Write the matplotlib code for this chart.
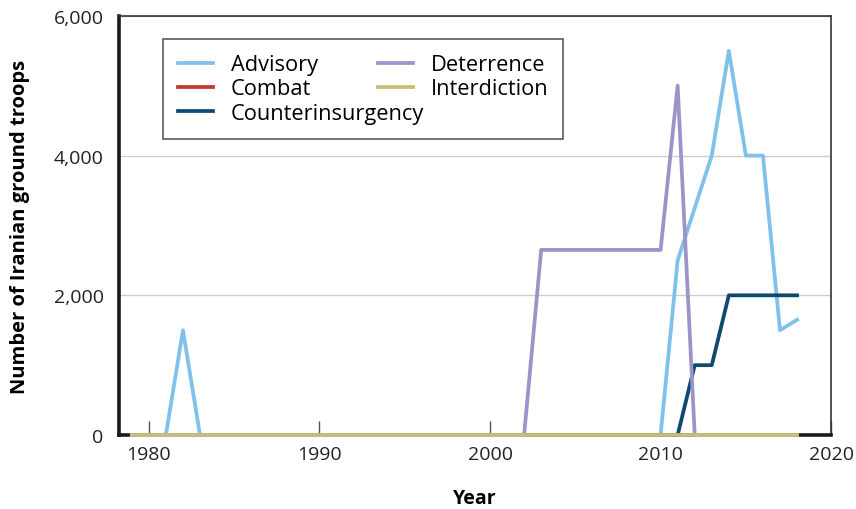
import numpy as np
import matplotlib.pyplot as plt

plt.rcParams['font.family'] = ['Open Sans', 'DejaVu Sans']

years = list(range(1979, 2019))

# troop counts by year, 1979-2018
advisory = [0, 0, 0, 1500, 0] + [0] * 27 + [2500, 3250, 4000, 5500, 4000, 4000, 1500, 1650]
combat = [0] * 40
counterinsurgency = [0] * 33 + [1000, 1000, 2000, 2000, 2000, 2000, 2000]
deterrence = [0] * 24 + [2650] * 8 + [5000, 0] + [0] * 6
interdiction = [0] * 40

series = [
    ('Advisory', advisory, '#7fc1ea'),
    ('Combat', combat, '#c0392b'),
    ('Counterinsurgency', counterinsurgency, '#0d4a6d'),
    ('Deterrence', deterrence, '#9c94c8'),
    ('Interdiction', interdiction, '#c9bd7a'),
]

fig = plt.figure(figsize=(8.56, 5.1), dpi=100)
ax = fig.add_axes([0.139, 0.145, 0.832, 0.822])

for name, vals, col in series:
    ax.plot(years, vals, color=col, lw=2.7, label=name, clip_on=False, zorder=5)

ax.set_xlim(1978.25, 2020)
ax.set_ylim(0, 6000)
ax.set_xticks([1980, 1990, 2000, 2010, 2020])
ax.set_yticks([0, 2000, 4000, 6000])
ax.set_yticklabels(['0', '2,000', '4,000', '6,000'])
ax.yaxis.grid(True, color='#cccccc', lw=1)
ax.set_axisbelow(True)

ax.tick_params(axis='x', direction='in', length=10, width=1, color='#555555',
               labelsize=14, pad=7, labelcolor='#222222')
ax.tick_params(axis='y', length=0, labelsize=14, pad=11, labelcolor='#222222')

for s in ['left', 'bottom']:
    ax.spines[s].set_linewidth(2.6)
    ax.spines[s].set_color('#1a1a1a')
for s in ['top', 'right']:
    ax.spines[s].set_linewidth(1.2)
    ax.spines[s].set_color('#333333')

ax.set_xlabel('Year', fontsize=14, fontweight='bold', labelpad=18)
ax.set_ylabel('Number of Iranian ground troops', fontsize=14.5, fontweight='bold', labelpad=17)

leg = ax.legend(ncol=2, loc='upper left', bbox_to_anchor=(0.062, 0.945), fontsize=15.7,
                frameon=True, fancybox=False, edgecolor='#333333', handlelength=1.6,
                labelspacing=0.15, columnspacing=-2.1, borderpad=0.7, handletextpad=0.8,
                borderaxespad=0)
leg.get_frame().set_linewidth(1.2)

fig.savefig('out.png', dpi=100)
